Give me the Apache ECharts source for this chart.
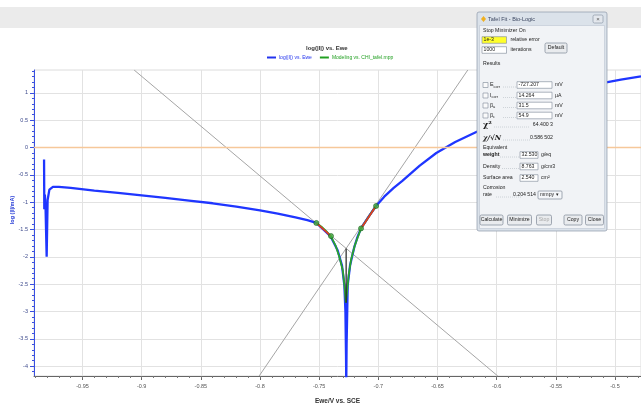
<!DOCTYPE html>
<html><head><meta charset="utf-8">
<script src="https://cdn.jsdelivr.net/npm/echarts@6/dist/echarts.min.js"></script>
<style>html,body{margin:0;padding:0;background:#fff}#c{width:641px;height:410px}</style>
</head><body><div id="c"></div>
<script>
// ---------- data ----------
const xTickValues = [-0.95,-0.9,-0.85,-0.8,-0.75,-0.7,-0.65,-0.6,-0.55,-0.5];
const yTickValues = [-4,-3.5,-3,-2.5,-2,-1.5,-1,-0.5,0,0.5,1];
const X_MIN = -0.991, X_MAX = -0.478, Y_MIN = -4.18, Y_MAX = 1.418;

const measuredE = [-0.9825,-0.9823,-0.9818,-0.9812,-0.9803,-0.9795,-0.978,-0.975,-0.970,-0.960,-0.940,-0.920,-0.900,-0.880,-0.860,-0.840,-0.820,-0.800,-0.785,-0.770,-0.760,-0.7524,-0.7465,-0.7405,-0.7344,-0.7307,-0.7287,-0.7278,-0.7273,-0.7271,-0.7268,-0.7262,-0.7259,-0.7239,-0.7203,-0.7175,-0.7146,-0.708,-0.7019,-0.695,-0.687,-0.6797,-0.665,-0.651,-0.635,-0.6172,-0.600,-0.580,-0.560,-0.540,-0.520,-0.5074,-0.495,-0.478];
const measuredLogI = [-0.22,-1.13,-0.86,-1.14,-2.00,-0.96,-0.77,-0.72,-0.72,-0.74,-0.79,-0.83,-0.875,-0.92,-0.97,-1.02,-1.08,-1.15,-1.21,-1.28,-1.33,-1.38,-1.50,-1.62,-1.88,-2.16,-2.52,-3.00,-3.80,-4.30,-3.60,-2.90,-2.52,-2.16,-1.82,-1.63,-1.48,-1.26,-1.07,-0.90,-0.74,-0.61,-0.33,-0.10,0.10,0.285,0.45,0.63,0.79,0.94,1.09,1.19,1.24,1.30];

const modelE = [-0.7524,-0.748,-0.744,-0.740,-0.736,-0.733,-0.730,-0.7285,-0.7275,-0.7265,-0.725,-0.723,-0.720,-0.717,-0.7146,-0.710,-0.706,-0.7019];
const modelLogI = [-1.38,-1.45,-1.53,-1.63,-1.80,-2.00,-2.25,-2.55,-2.84,-2.65,-2.32,-2.05,-1.80,-1.62,-1.48,-1.33,-1.20,-1.07];

const fitBoundE = [-0.7524,-0.7400,-0.7146,-0.7019];
const fitBoundLogI = [-1.38,-1.62,-1.48,-1.07];

const E_CORR = -0.7272;        // V
const I_CORR_MA = 0.014264;    // mA
const BETA_A = 0.0315;         // V/decade
const BETA_C = 0.0549;         // V/decade
const MODEL_MIN_LOGI = -2.84;

// ---------- build ----------
const zip = (a, b) => a.map((v, i) => [v, b[i]]);
const logIcorr = Math.log10(I_CORR_MA);
const cathodic = [Y_MAX, Y_MIN].map(y => [E_CORR - (y - logIcorr) * BETA_C, y]);
const anodic = [Y_MIN, Y_MAX].map(y => [E_CORR + (y - logIcorr) * BETA_A, y]);
const fitPts = zip(fitBoundE, fitBoundLogI);

const minorX = []; for (let i = -99; i <= -48; i++) minorX.push(+(i / 100).toFixed(2));
const minorY = []; for (let i = -41; i <= 14; i++) minorY.push(+(i / 10).toFixed(1));

const fmt = v => String(+v.toFixed(2));

// dialog helpers (pure UI decoration)
const G = [];
const rect = (x, y, w, h, fill, stroke, r) => G.push({type:'rect', shape:{x, y, width:w, height:h, r:r||0}, style:{fill, stroke:stroke||null, lineWidth:stroke?0.7:0}, z:100, silent:true});
const txt = (x, y, t, o) => G.push({type:'text', x, y, z:101, silent:true, style:Object.assign({text:t, fill:'#222', fontSize:5.2, fontFamily:'Liberation Sans, Arial, sans-serif', verticalAlign:'middle', align:'left'}, o||{})});
const box = (x, y, w, t, fill) => { rect(x, y - 3.3, w, 6.6, fill || '#fff', '#8c96a3'); txt(x + 1.5, y, t); };
const btn = (x, y, w, t, dis) => { rect(x, y, w, 10, '#e9ebee', '#7d8795', 1.5); txt(x + w / 2, y + 5, t, {align:'center', fill: dis ? '#aaa' : '#222'}); };
const dots = (x1, x2, y) => G.push({type:'line', shape:{x1, y1:y+2, x2, y2:y+2}, style:{stroke:'#9aa3ad', lineWidth:0.5, lineDash:[0.8,1.2]}, z:101, silent:true});
const chk = (x, y) => rect(x, y - 2.5, 5, 5, '#fafafa', '#8c96a3');

// top grey band
G.push({type:'rect', shape:{x:0, y:7, width:641, height:21}, style:{fill:'#ebebeb'}, z:-1, silent:true});
// y axis name
G.push({type:'text', x:12, y:210, rotation:Math.PI/2, z:10, silent:true, style:{text:'log (|I|/mA)', fill:'#2a3fd6', fontSize:5.5, fontWeight:'bold', fontFamily:'Liberation Sans, Arial, sans-serif', align:'center', verticalAlign:'middle'}});

// dialog
rect(477, 12, 130, 219, '#dbe2ea', '#8e9aab', 2);
rect(479.5, 25.5, 125, 203, '#f1f3f6', '#c2cad5');
G.push({type:'polygon', shape:{points:[[481,19],[483.5,16],[486,19],[483.5,22]]}, style:{fill:'#f0b020'}, z:101, silent:true});
txt(488, 19, 'Tafel Fit - Bio-Logic', {fill:'#3b4660', fontSize:5.5});
rect(593, 15, 10, 8, '#e3e7ed', '#8d98a8', 1.5);
txt(598, 19, '×', {align:'center', fill:'#555', fontSize:6});
txt(483, 31, 'Stop Minimizer On');
box(482, 40, 24.5, '1e-3', '#ffff2a');
txt(510.5, 40, 'relative error');
box(482, 50, 24.5, '1000');
txt(510.5, 50, 'iterations');
btn(545, 43, 22, 'Default');
txt(483, 63.5, 'Results');
const resRows = [
  [85, '{m|E}{s|corr}', '-727.207', 'mV'],
  [95.5, '{m|I}{s|corr}', '14.264', 'µA'],
  [105.5, '{m|β}{s|a}', '31.5', 'mV'],
  [115.5, '{m|β}{s|c}', '54.9', 'mV']
];
resRows.forEach(r => {
  chk(483, r[0]);
  G.push({type:'text', x:490, y:r[0], z:101, silent:true, style:{text:r[1], verticalAlign:'middle', rich:{m:{fontSize:5.4, fill:'#222', fontFamily:'Liberation Sans, Arial, sans-serif'}, s:{fontSize:3.8, fill:'#222', padding:[3,0,0,0], fontFamily:'Liberation Sans, Arial, sans-serif'}}}});
  dots(503, 516, r[0]);
  box(517, r[0], 35, r[2]);
  txt(555, r[0], r[3]);
});
txt(483, 125, 'χ²', {fontSize:8, fontWeight:'bold', fontFamily:'DejaVu Serif, serif'});
dots(494, 530, 125);
txt(553, 125, '64.400 3', {align:'right'});
txt(483, 138, 'χ/√N', {fontSize:7, fontWeight:'bold', fontFamily:'DejaVu Serif, serif', fontStyle:'italic'});
dots(503, 530, 138);
txt(553, 138, '0.586 502', {align:'right'});
txt(483, 148, 'Equivalent');
txt(483, 155, 'weight', {fontWeight:'bold'});
dots(500, 519, 155); box(520, 155, 18, '32.530'); txt(541, 155, 'g/eq');
txt(483, 166.5, 'Density'); dots(502, 519, 166.5); box(520, 166.5, 18, '8.763'); txt(541, 166.5, 'g/cm3');
txt(483, 178, 'Surface area'); box(520, 178, 18, '2.540'); txt(541, 178, 'cm²');
txt(483, 187.5, 'Corrosion');
txt(483, 195, 'rate'); dots(496, 521, 195);
txt(536, 195, '0.204 514', {align:'right'});
rect(538, 191, 24, 8, '#f4f6f9', '#7d8795', 1);
txt(540, 195, 'mmpy ▾');
btn(480, 215, 23, 'Calculate');
btn(507.5, 215, 24, 'Minimize');
btn(536.5, 215, 15, 'Stop', true);
btn(564, 215, 18, 'Copy');
btn(585.5, 215, 18, 'Close');

const FONT = 'Liberation Sans, Arial, sans-serif';
const chart = echarts.init(document.getElementById('c'), null, {renderer:'canvas'});
chart.setOption({
  animation: false,
  backgroundColor: '#fff',
  title: {text:'log(|I|) vs. Ewe', left:306, top:45, padding:0, textStyle:{fontSize:6, fontWeight:'bold', color:'#333', fontFamily:FONT}},
  legend: {left:267, top:55, padding:0, itemWidth:9, itemHeight:2, itemGap:8, icon:'rect',
    textStyle:{fontSize:5, fontFamily:FONT, padding:[0,0,0,-2]},
    data:[{name:'log(|I|) vs. Ewe', textStyle:{color:'#2233ee'}}, {name:'Modeling vs. CHI_tafel.mpp', textStyle:{color:'#22a022'}}]},
  grid: {left:34, right:0, top:70, bottom:32, show:true, borderColor:'#dcdcdc', borderWidth:1, containLabel:false},
  xAxis: [{
    type:'value', min:X_MIN, max:X_MAX, name:'Ewe/V vs. SCE', nameLocation:'middle', nameGap:22,
    nameTextStyle:{fontSize:6.5, fontWeight:'bold', color:'#333', fontFamily:FONT},
    axisLine:{onZero:false, lineStyle:{color:'#666', width:1}},
    axisTick:{customValues:xTickValues, length:4, lineStyle:{color:'#666'}},
    axisLabel:{customValues:xTickValues, formatter:fmt, fontSize:5.5, color:'#555', margin:7, fontFamily:FONT},
    splitLine:{show:true, lineStyle:{color:'#e2e2e2', width:1}}
  }, {
    type:'value', min:X_MIN, max:X_MAX, position:'bottom',
    axisLine:{show:false, onZero:false}, axisTick:{customValues:minorX, length:2, lineStyle:{color:'#777'}},
    axisLabel:{show:false}, splitLine:{show:false}
  }],
  yAxis: [{
    type:'value', min:Y_MIN, max:Y_MAX, position:'left',
    axisLine:{show:true, onZero:false, lineStyle:{color:'#3a50e0', width:1}},
    axisTick:{customValues:yTickValues, length:4, lineStyle:{color:'#3a50e0'}},
    axisLabel:{customValues:yTickValues, formatter:fmt, fontSize:5.5, color:'#3d4a8c', margin:6, fontFamily:FONT},
    splitLine:{show:true, lineStyle:{color:'#e2e2e2', width:1}}
  }, {
    type:'value', min:Y_MIN, max:Y_MAX, position:'left',
    axisLine:{show:false, onZero:false}, axisTick:{customValues:minorY, length:2, lineStyle:{color:'#3a50e0'}},
    axisLabel:{show:false}, splitLine:{show:false}
  }],
  series: [
    {name:'log(|I|) vs. Ewe', type:'line', data:zip(measuredE, measuredLogI), showSymbol:false, color:'#2233ee',
      lineStyle:{width:2.3, color:'#1f36ff'}, z:3, clip:true,
      markLine:{silent:true, symbol:'none', label:{show:false}, lineStyle:{color:'#f6c89a', width:1.4, type:'solid'}, data:[{yAxis:0}]}},
    {name:'cathodic', type:'line', data:cathodic, showSymbol:false, lineStyle:{width:1, color:'#a5a5a5'}, z:2, clip:true},
    {name:'anodic', type:'line', data:anodic, showSymbol:false, lineStyle:{width:1, color:'#a5a5a5'}, z:2, clip:true},
    {name:'Modeling vs. CHI_tafel.mpp', type:'line', data:zip(modelE, modelLogI), showSymbol:false, color:'#22a022',
      lineStyle:{width:1.8, color:'#2aa52a'}, z:4},
    {name:'ecorr', type:'line', data:[[E_CORR, logIcorr], [E_CORR, MODEL_MIN_LOGI]], showSymbol:false, lineStyle:{width:1.2, color:'#222'}, z:5},
    {name:'fitL', type:'line', data:[fitPts[0], fitPts[1]], showSymbol:false, lineStyle:{width:1.7, color:'#e03a22'}, z:5},
    {name:'fitR', type:'line', data:[fitPts[2], fitPts[3]], showSymbol:false, lineStyle:{width:1.7, color:'#e03a22'}, z:5},
    {name:'bounds', type:'scatter', data:fitPts, symbolSize:5, itemStyle:{color:'#3faf3f', borderColor:'#1b5e1b', borderWidth:0.8}, z:6}
  ],
  graphic: {elements: G}
});
</script></body></html>
